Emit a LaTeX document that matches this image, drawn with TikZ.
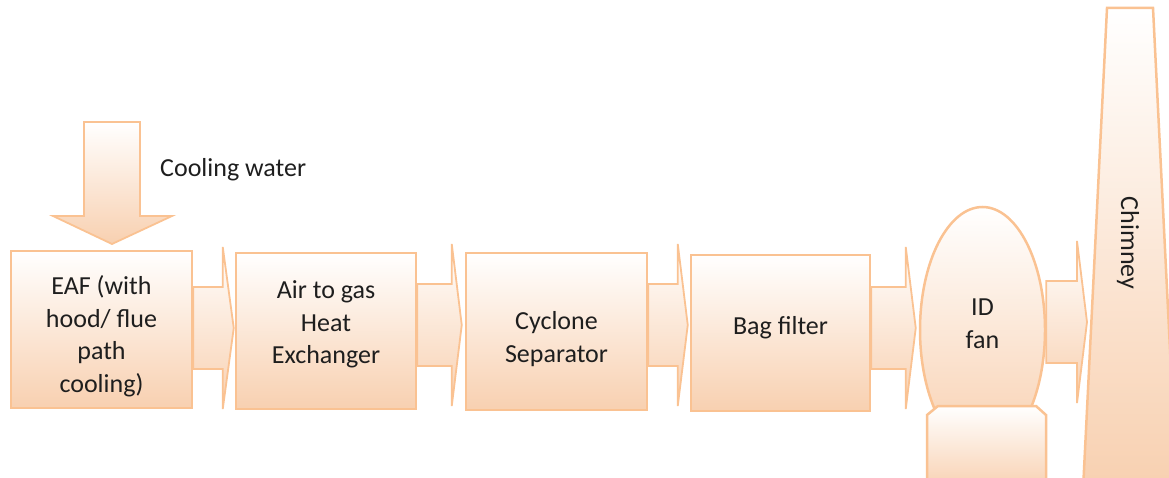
\documentclass[tikz,border=0pt]{standalone}
\usepackage{fontspec}
\setmainfont{Carlito}
\usetikzlibrary{shapes.geometric,calc}
\definecolor{peachline}{RGB}{250,194,146}
\definecolor{peachfill}{RGB}{248,208,176}
\definecolor{txt}{RGB}{30,30,30}
\tikzset{
  box/.style={draw=peachline, line width=2.5pt, top color=white, bottom color=peachfill,
    inner sep=0pt},
  flow/.style={draw=peachline, line width=1.8pt, top color=white, bottom color=peachfill, line join=miter},
  lbl/.style={text=txt, inner sep=0pt, align=center}
}
% #1 from node, #2 to node/coordinate, #3 y mid, #4 shaft half, #5 flange half, #6 flange offset, #7 tip offset
\newcommand\flowarrow[7]{%
  \path[flow] (#1.east |- 0,{#3-#4}) -- ($(#2 |- 0,{#3-#4})+(-#6,0)$) -- ($(#2 |- 0,{#3-#5})+(-#6,0)$)
    -- ($(#2 |- 0,#3)+(-#7,0)$) -- ($(#2 |- 0,{#3+#5})+(-#6,0)$) -- ($(#2 |- 0,{#3+#4})+(-#6,0)$)
    -- (#1.east |- 0,{#3+#4}) -- cycle;}
\begin{document}
\begin{tikzpicture}[x=1pt, y=-1pt, font=\fontsize{26}{32.5}\selectfont]
\useasboundingbox (0,0) rectangle (1169,478);
% boxes
\node[box, minimum width=181, minimum height=157] (eaf) at (101.5,329.5) {};
\node[box, minimum width=180, minimum height=156] (air) at (326,331) {};
\node[box, minimum width=181, minimum height=157] (cyc) at (556.5,331.5) {};
\node[box, minimum width=179, minimum height=156] (bag) at (780.5,333) {};
\node[lbl] (eaft) at ($(eaf.center)+(0,6.5)$) {EAF (with\\hood/ flue\\path\\cooling)};
\node[lbl] (airt) at ($(air.center)+(0,-6.5)$) {Air to gas\\Heat\\Exchanger};
\node[lbl] (cyct) at ($(cyc.center)+(0,7.5)$) {Cyclone\\Separator};
\node[lbl] (bagt) at ($(bag.center)+(0,-5.6)$) {Bag filter};
% ID fan
\node[box, shape=ellipse, minimum width=125, minimum height=246] (fan) at (982.5,330) {};
\path[box] (927,490) -- (927,415) -- (938,406) -- (1036,406) -- (1046,415) -- (1046,490);
\node[lbl] (fant) at ($(fan.center)+(0,-6.3)$) {ID\\fan};
% chimney
\path[box] (1107,8) -- (1153,8) -- (1177,490) -- (1083,490) -- cycle;
\node[lbl, rotate=-90] (chimtext) at (1128,243) {Chimney};
\coordinate (chim) at (1089,322);
% cooling water
\node[lbl, anchor=base west] (cw) at (160,177) {Cooling water};
\coordinate (cwtip) at (112,244);
\path[flow] (84,122) -- (140,122) -- (140,216) -- (172,216) -- (cwtip) -- (53,216) -- (84,216) -- cycle;
% flow arrows
\flowarrow{eaf}{air.west}{328}{41}{81}{12}{1}
\flowarrow{air}{cyc.west}{325}{41}{81}{13}{3}
\flowarrow{cyc}{bag.west}{325}{41}{81}{12}{2}
\flowarrow{bag}{fan.west}{328}{41}{81}{13}{3}
\flowarrow{fan}{chim}{322}{41}{81}{12}{2}
\end{tikzpicture}
\end{document}
